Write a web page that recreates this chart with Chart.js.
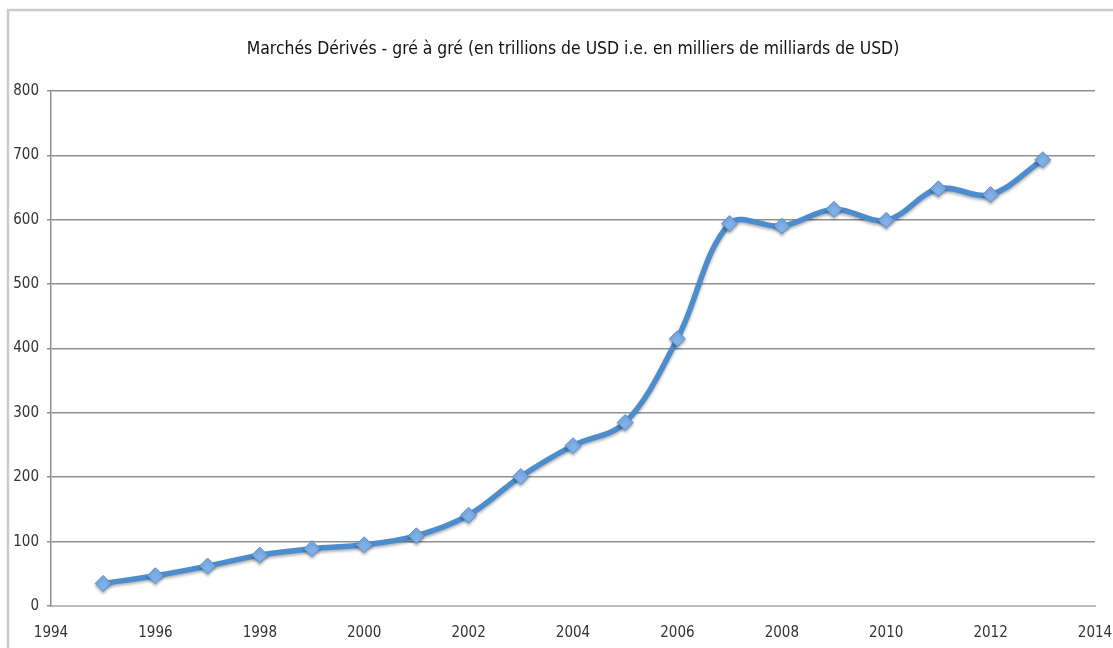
<!DOCTYPE html>
<html>
<head>
<meta charset="utf-8">
<script src="https://cdn.jsdelivr.net/npm/chart.js@4"></script>
<style>
    html, body { margin: 0; padding: 0; background: #fff; }
    #wrap { width: 1113px; height: 648px; position: relative; }
</style>
</head>
<body>
<div id="wrap"><canvas id="otcChart"></canvas></div>
<script>
// valeurs (trillions de USD)
const years = [1995, 1996, 1997, 1998, 1999, 2000, 2001, 2002, 2003, 2004,
               2005, 2006, 2007, 2008, 2009, 2010, 2011, 2012, 2013];
const notional = [35, 47, 62, 79, 89, 95, 109, 141, 201, 249,
                  285, 415, 594, 590, 616, 599, 648, 639, 693];
const xTicks = [1994, 1996, 1998, 2000, 2002, 2004, 2006, 2008, 2010, 2012, 2014];
const yTicks = [0, 100, 200, 300, 400, 500, 600, 700, 800];

const chartTitle = "Marchés Dérivés - gré à gré (en trillions de USD i.e. en milliers de milliards de USD)";
const narrow = "'Liberation Sans Narrow', 'DejaVu Sans Condensed', sans-serif";

document.addEventListener("DOMContentLoaded", function () {
    const ctx = document.getElementById("otcChart").getContext("2d");

    // cadre gris en haut et à gauche + ombre sous la courbe
    const framePlugin = {
        id: "frame",
        beforeDraw(chart) {
            const c = chart.ctx;
            c.save();
            c.strokeStyle = "#cccccc";
            c.lineWidth = 2.5;
            c.beginPath();
            c.moveTo(8, chart.height);
            c.lineTo(8, 10);
            c.lineTo(chart.width, 10);
            c.stroke();
            c.restore();
        },
        beforeDatasetsDraw(chart) {
            const c = chart.ctx;
            c.save();
            c.shadowColor = "rgba(0,0,0,0.3)";
            c.shadowBlur = 3;
            c.shadowOffsetY = 2;
        },
        afterDatasetsDraw(chart) {
            chart.ctx.restore();
        }
    };

    new Chart(ctx, {
        type: "line",
        data: {
            datasets: [{
                label: "Notionnel",
                data: years.map((y, i) => ({ x: y, y: notional[i] })),
                borderColor: "#4d8ccd",
                borderWidth: 5.5,
                tension: 0.35,
                fill: false,
                pointStyle: "rectRot",
                pointRadius: 8,
                pointBackgroundColor: "#7fb0ea",
                pointBorderColor: "#5a90d0",
                pointBorderWidth: 1,
            }],
        },
        options: {
            responsive: true,
            maintainAspectRatio: false,
            animation: false,
            layout: { padding: { left: 0, right: 0, top: 0, bottom: 0 } },
            plugins: {
                legend: { display: false },
                tooltip: { enabled: false },
                title: {
                    display: true,
                    fullSize: false,
                    text: chartTitle,
                    color: "#111",
                    font: { family: narrow, size: 17.4, weight: "normal" },
                    padding: { top: 39, bottom: 31 },
                },
            },
            scales: {
                x: {
                    type: "linear",
                    min: 1994,
                    max: 2014,
                    afterBuildTicks(scale) {
                        scale.ticks = xTicks.map(v => ({ value: v }));
                    },
                    afterFit(scale) {
                        scale.height = 42;
                        scale.paddingRight = 18;
                    },
                    grid: { display: false, drawTicks: true, tickLength: 4, tickColor: "#b0b0b0" },
                    border: { color: "#bdbdbd", width: 2 },
                    ticks: {
                        color: "#333",
                        padding: 14,
                        maxRotation: 0,
                        font: { family: narrow, size: 15 },
                        callback: v => String(v),
                    },
                },
                y: {
                    min: 0,
                    max: 800,
                    afterBuildTicks(scale) {
                        scale.ticks = yTicks.map(v => ({ value: v }));
                    },
                    afterFit(scale) { scale.width = 51; },
                    grid: { color: "#8f8f8f", lineWidth: 1.5, tickLength: 4, tickColor: "#8f8f8f" },
                    border: { color: "#8f8f8f", width: 1.5 },
                    ticks: {
                        color: "#333",
                        padding: 8,
                        font: { family: narrow, size: 15 },
                    },
                },
            },
        },
        plugins: [framePlugin],
    });
});
</script>
</body>
</html>
